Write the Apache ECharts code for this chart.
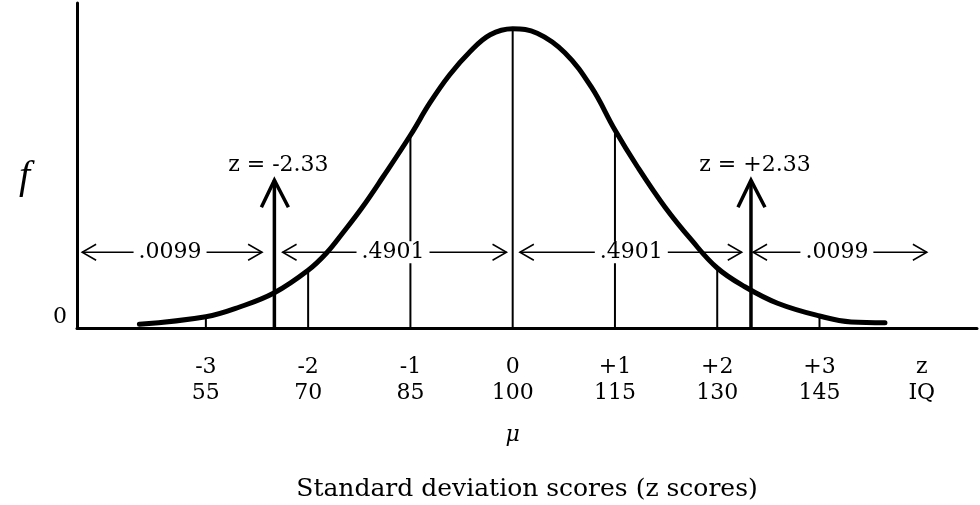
<!DOCTYPE html>
<html>
<head>
<meta charset="utf-8">
<script src="https://cdn.jsdelivr.net/npm/echarts@6/dist/echarts.min.js"></script>
<style>
  html, body { margin: 0; padding: 0; background: #fff; }
  #chart { width: 980px; height: 505px; }
</style>
</head>
<body>
<div id="chart"></div>
<script>
// normal curve: z score and relative height f
var curveZ = [-3.65, -3, -2.67, -2.33, -2, -1.82, -1.66, -1.47, -1.27, -1, -0.81, -0.62, -0.42, -0.22, 0,
              0.24, 0.51, 0.77, 1, 1.22, 1.49, 1.75, 2, 2.27, 2.59, 3, 3.31, 3.64];
var curveF = [0.005, 0.015, 0.028, 0.047, 0.077, 0.100, 0.127, 0.161, 0.201, 0.257, 0.300, 0.337, 0.368, 0.391, 0.399,
              0.393, 0.367, 0.321, 0.264, 0.215, 0.161, 0.117, 0.080, 0.055, 0.033, 0.016, 0.008, 0.007];

// tick labels under the axis
var labelPos = [-3, -2, -1, 0, 1, 2, 3, 4];
var zLabels = ['-3', '-2', '-1', '0', '+1', '+2', '+3', 'z'];
var iqLabels = ['55', '70', '85', '100', '115', '130', '145', 'IQ'];

// standard deviation lines from the baseline up to the curve
var sdLines = [-3, -2, -1, 0, 1, 2, 3];

// cut-off arrows at z = -2.33 and +2.33
var cutZ = [-2.33, 2.33];
var cutLabels = ['z = -2.33', 'z = +2.33'];
var cutTop = 0.197;

// area arrows and their proportions
var areaFrom = [-4.21, -2.25, 0.07, 2.35];
var areaTo = [-2.45, -0.06, 2.24, 4.05];
var areaText = ['.0099', '.4901', '.4901', '.0099'];
var areaTextAt = [-3.35, -1.17, 1.16, 3.17];
var areaLevel = 0.101;

var serif = '"DejaVu Serif"';

var curveData = curveZ.map(function (z, i) { return [z, curveF[i]]; });
var sdData = sdLines.map(function (z) { return [z, curveF[curveZ.indexOf(z)]]; });
var cutData = cutZ.map(function (z) { return [z, cutTop]; });
var areaData = areaFrom.map(function (a, i) { return [a, areaTo[i], areaLevel, areaTextAt[i]]; });

var myChart = echarts.init(document.getElementById('chart'));

var option = {
    backgroundColor: '#fff',
    animation: false,
    grid: { left: 77, right: 3, top: 3, bottom: 177, outerBoundsMode: 'none' },
    xAxis: {
        type: 'value',
        min: -4.26,
        max: 4.54,
        axisLine: { show: true, onZero: false, lineStyle: { color: '#000', width: 3 } },
        axisTick: { show: false },
        splitLine: { show: false },
        axisLabel: {
            customValues: labelPos,
            margin: 26,
            formatter: function (v) {
                var i = labelPos.indexOf(v);
                var s = '{a|' + zLabels[i] + '}\n{a|' + iqLabels[i] + '}';
                if (v === 0) s += '\n{mu|μ}';
                return s;
            },
            rich: {
                a: { fontFamily: serif, fontSize: 22, lineHeight: 26, color: '#000', align: 'center' },
                mu: { fontFamily: serif, fontStyle: 'italic', fontSize: 22, lineHeight: 58, color: '#000', align: 'center' }
            }
        },
        name: 'Standard deviation scores (z scores)',
        nameLocation: 'middle',
        nameGap: 149,
        nameTextStyle: { fontFamily: serif, fontSize: 25, color: '#000' }
    },
    yAxis: {
        type: 'value',
        min: 0,
        max: 0.4333,
        axisLine: { show: true, onZero: false, lineStyle: { color: '#000', width: 3 } },
        axisTick: { show: false },
        splitLine: { show: false },
        axisLabel: {
            customValues: [0],
            margin: 10,
            verticalAlign: 'bottom',
            fontFamily: serif,
            fontSize: 22,
            color: '#000',
            formatter: function () { return '0'; }
        },
        name: '\nf',
        nameLocation: 'middle',
        nameRotate: 0,
        nameGap: 47,
        nameTextStyle: { fontFamily: '"Liberation Serif"', fontStyle: 'italic', fontSize: 40, lineHeight: 24, color: '#000' }
    },
    series: [
        {
            name: 'sd lines',
            type: 'custom',
            z: 1,
            data: sdData,
            renderItem: function (params, api) {
                var b = api.coord([api.value(0), 0]);
                var t = api.coord([api.value(0), api.value(1)]);
                return {
                    type: 'line',
                    shape: { x1: b[0], y1: b[1], x2: t[0], y2: t[1] },
                    style: { stroke: '#000', lineWidth: 2 }
                };
            }
        },
        {
            name: 'areas',
            type: 'custom',
            z: 2,
            data: areaData,
            renderItem: function (params, api) {
                var a = api.coord([api.value(0), api.value(2)]);
                var b = api.coord([api.value(1), api.value(2)]);
                var t = api.coord([api.value(3), api.value(2)]);
                var st = { stroke: '#000', lineWidth: 1.5, fill: null };
                return {
                    type: 'group',
                    children: [
                        { type: 'line', shape: { x1: a[0], y1: a[1], x2: b[0], y2: b[1] }, style: st },
                        { type: 'polyline', shape: { points: [[a[0] + 14, a[1] - 8], [a[0], a[1]], [a[0] + 14, a[1] + 8]] }, style: st },
                        { type: 'polyline', shape: { points: [[b[0] - 14, b[1] - 8], [b[0], b[1]], [b[0] - 14, b[1] + 8]] }, style: st },
                        {
                            type: 'text', x: t[0], y: t[1],
                            style: {
                                text: areaText[params.dataIndex], fill: '#000', font: '22px ' + serif,
                                align: 'center', verticalAlign: 'middle', backgroundColor: '#fff', padding: [0, 5]
                            }
                        }
                    ]
                };
            }
        },
        {
            name: 'cut-off',
            type: 'custom',
            z: 3,
            data: cutData,
            renderItem: function (params, api) {
                var b = api.coord([api.value(0), 0]);
                var t = api.coord([api.value(0), api.value(1)]);
                var st = { stroke: '#000', lineWidth: 3.5, fill: null, lineJoin: 'miter' };
                return {
                    type: 'group',
                    children: [
                        { type: 'line', shape: { x1: b[0], y1: b[1], x2: t[0], y2: t[1] }, style: st },
                        { type: 'polyline', shape: { points: [[t[0] - 13, t[1] + 27], [t[0], t[1]], [t[0] + 14, t[1] + 27]] }, style: st },
                        {
                            type: 'text', x: t[0] + 4, y: t[1] - 15,
                            style: { text: cutLabels[params.dataIndex], fill: '#000', font: '22px ' + serif, align: 'center', verticalAlign: 'middle' }
                        }
                    ]
                };
            }
        },
        {
            name: 'f',
            type: 'line',
            z: 5,
            data: curveData,
            smooth: 0.4,
            symbol: 'none',
            lineStyle: { color: '#000', width: 5, cap: 'round' }
        }
    ]
};

myChart.setOption(option);
</script>
</body>
</html>
